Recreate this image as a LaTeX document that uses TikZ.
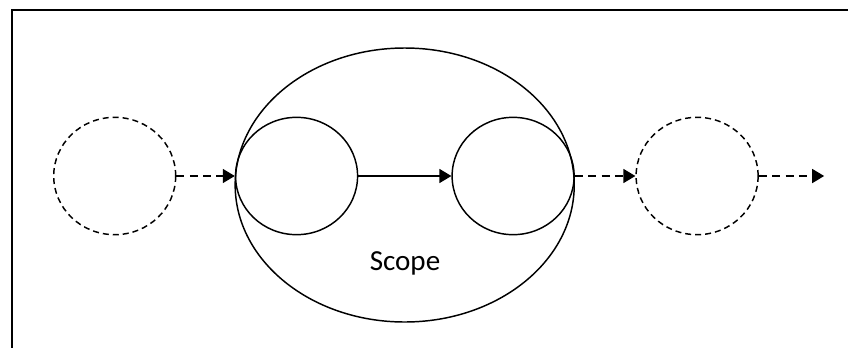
\documentclass[tikz,border=0pt]{standalone}
\usepackage{fontspec}
\setmainfont{Carlito}
\usetikzlibrary{shapes.geometric,arrows.meta}

\begin{document}
\begin{tikzpicture}[x=0.75pt, y=-0.75pt, node distance=2cm, auto,
  unit/.style={ellipse, draw, line width=1.1pt, inner sep=0pt, minimum width=91.5pt, minimum height=88pt},
  ghost/.style={unit, dash pattern=on 4.5pt off 3pt},
  flow/.style={-{Triangle[length=9pt,width=10.5pt]}, line width=1.1pt},
  dashflow/.style={flow, dash pattern=on 6pt off 4pt}]
\useasboundingbox (0,0) rectangle (848,347);
\clip (0,0) rectangle (848,347);
\draw[line width=1.6pt] (12,10) rectangle (870,370);
\node (prev) [ghost] at (114.7,176) {};
\node (a) [unit, right of=prev, node distance=136.4pt] {};
\node (b) [unit, right of=a, node distance=162.4pt] {};
\node (next) [ghost, right of=b, node distance=138pt] {};
\node (end) [coordinate, right of=next, node distance=95.3pt] {};
\node (scope) [ellipse, draw, line width=1.1pt, inner sep=0pt, minimum width=254.3pt, minimum height=205.5pt] at (404.7,185) {};
\node (label) at (405,263) {\fontsize{21.8}{26}\selectfont Scope};
\draw[dashflow] (prev) -- (a);
\draw[flow] (a) -- (b);
\draw[dashflow] (b) -- (next);
\draw[dashflow] (next) -- (end);
\end{tikzpicture}
\end{document}
